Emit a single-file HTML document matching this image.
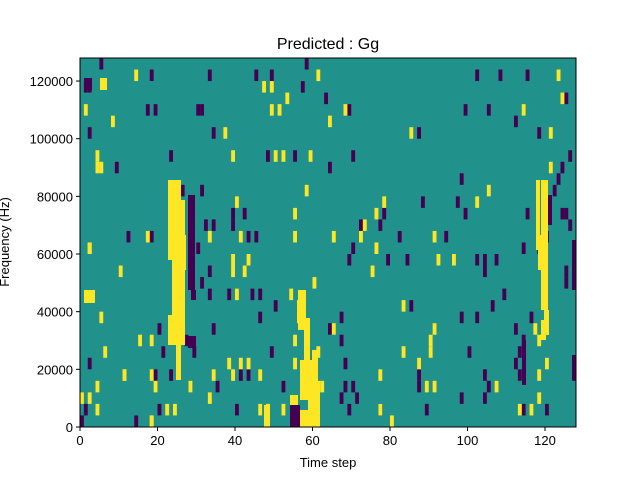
<!DOCTYPE html>
<html><head><style>body{margin:0;background:#fff}svg{display:block;font-family:"Liberation Sans","DejaVu Sans",sans-serif}</style></head>
<body>
<svg id="s" width="640" height="480" xmlns="http://www.w3.org/2000/svg">
<rect width="640" height="480" fill="#fff"/>
<rect x="80" y="58" width="496" height="369" fill="#21918c"/>
<g id="cells"></g>
<rect x="80" y="58" width="496" height="369" fill="none" stroke="#000" stroke-width="1"/>
<text x="328" y="49" font-size="16" text-anchor="middle">Predicted : Gg</text>
<text x="328" y="467" font-size="13" text-anchor="middle">Time step</text>
<text transform="translate(9,242) rotate(-90)" font-size="13" text-anchor="middle">Frequency (Hz)</text>
<g id="ax" font-size="13"></g>
</svg>
<script>
var ns="http://www.w3.org/2000/svg",g=document.getElementById('cells'),ax=document.getElementById('ax');
function R(x0,y0,x1,y1,c){var r=document.createElementNS(ns,'rect');r.setAttribute('x',x0);r.setAttribute('y',y0);r.setAttribute('width',x1-x0);r.setAttribute('height',y1-y0);r.setAttribute('fill',c);g.appendChild(r);}
var Y='#fde725',P='#440154';
function cell(x,y,c){var col=Math.floor((x-80)/3.875),row=Math.floor((y-58)/11.53);R(80+col*3.875,58+row*11.53,80+(col+1)*3.875,58+(row+1)*11.53,c);}
var pu=[[100,63],[86,84],[88,84],[153,73],[154,107],[149,107],[213,129],[171,152],[90,130],[118,163],[257,73],[304,84],[306,62],[327,96],[350,107],[353,158],[330,163],[295,152],[268,152],[419,129],[478,73],[499,73],[529,73],[488,107],[515,118],[540,129],[572,152],[567,96],[211,73],[271,73],[197,107],[202,106],[183,185],[203,185],[205,220],[213,220],[128,242],[150,242],[200,243],[208,275],[203,287],[210,300],[214,330],[234,208],[233,220],[245,208],[250,232],[256,242],[230,299],[251,299],[262,298],[260,322],[276,310],[272,355],[195,352],[187,340],[160,330],[155,375],[170,378],[163,352],[241,375],[236,410],[247,375],[216,388],[284,390],[307,420],[348,410],[358,403],[345,385],[347,363],[354,252],[351,265],[360,230],[342,322],[330,330],[343,343],[380,230],[386,208],[387,265],[407,265],[399,242],[412,310],[420,375],[419,392],[423,198],[445,242],[456,197],[461,184],[467,208],[468,354],[462,322],[478,265],[483,265],[484,275],[489,386],[485,398],[483,375],[476,320],[497,265],[493,309],[504,298],[515,330],[520,356],[517,367],[525,344],[530,320],[527,208],[522,244],[548,232],[556,196],[561,208],[566,208],[572,220],[566,275],[573,275],[566,287],[574,365],[575,375],[545,410],[523,410],[519,378],[540,253],[90,365],[135,418],[158,410],[80,420],[86,410],[560,175],[563,165],[465,107],[461,398],[428,410],[343,398],[352,388],[382,410]];
var ye=[[87,107],[136,73],[176,407],[166,410],[211,402],[212,378],[232,375],[240,365],[228,363],[249,363],[261,380],[261,410],[237,297],[232,275],[233,263],[237,197],[246,275],[247,265],[239,242],[283,160],[306,185],[295,209],[294,233],[292,298],[297,310],[300,318],[296,340],[294,363],[282,410],[269,410],[315,285],[320,352],[314,375],[317,388],[323,386],[334,242],[334,330],[362,242],[366,220],[371,275],[377,244],[378,209],[385,198],[381,375],[380,408],[392,420],[403,352],[405,310],[410,129],[418,365],[432,339],[432,355],[428,388],[436,385],[434,330],[434,242],[437,264],[454,264],[479,197],[488,188],[498,392],[520,412],[524,107],[549,130],[552,162],[560,73],[562,100],[317,73],[288,96],[232,152],[274,152],[309,152],[270,84],[264,84],[281,107],[344,107],[330,118],[270,107],[190,388],[157,388],[125,375],[150,375],[97,385],[90,397],[82,397],[96,410],[150,420],[99,155],[103,163],[112,118],[224,129],[98,170],[177,220],[208,233],[148,242],[121,275],[88,245],[101,318],[106,355],[140,342],[150,342],[123,375],[150,420],[90,253],[89,254],[540,398],[538,375],[545,363],[540,342],[534,330],[530,410]];
pu.forEach(function(p){cell(p[0],p[1],P)});ye.forEach(function(p){cell(p[0],p[1],Y)});
[[168,180,181,260],[172,200,185,345],[176,260,181,380],[168,315,176,345],[178,235,186,270],[304,318,310,360],[298,290,306,330],[300,360,312,400],[308,385,320,427],[312,350,318,385],[290,395,298,410],[536,180,540,250],[541,180,548,310],[544,310,549,335],[538,235,545,270],[541,320,546,340],[84,290,95,303],[100,78,107,90],[264,405,270,427],[300,410,308,427]].forEach(function(b){R(b[0],b[1],b[2],b[3],Y)});
[[188,195,195,290],[188,336,196,348],[191,290,196,300],[290,405,300,427],[84,78,92,90],[572,240,576,290],[548,195,552,225],[522,340,526,385],[572,355,576,380]].forEach(function(b){R(b[0],b[1],b[2],b[3],P)});
function T(x,y,s,a){var t=document.createElementNS(ns,'text');t.setAttribute('x',x);t.setAttribute('y',y);t.setAttribute('text-anchor',a);t.textContent=s;ax.appendChild(t);}
function L(x1,y1,x2,y2){var l=document.createElementNS(ns,'line');l.setAttribute('x1',x1);l.setAttribute('y1',y1);l.setAttribute('x2',x2);l.setAttribute('y2',y2);l.setAttribute('stroke','#000');ax.appendChild(l);}
for(var i=0;i<=6;i++){var x=80+i*77.5;L(x,427,x,431);T(x,445,String(i*20),'middle');}
for(var j=0;j<=6;j++){var y=427-j*57.66;L(76,y,80,y);T(73,y+5,String(j*20000),'end');}
</script>
</body></html>
